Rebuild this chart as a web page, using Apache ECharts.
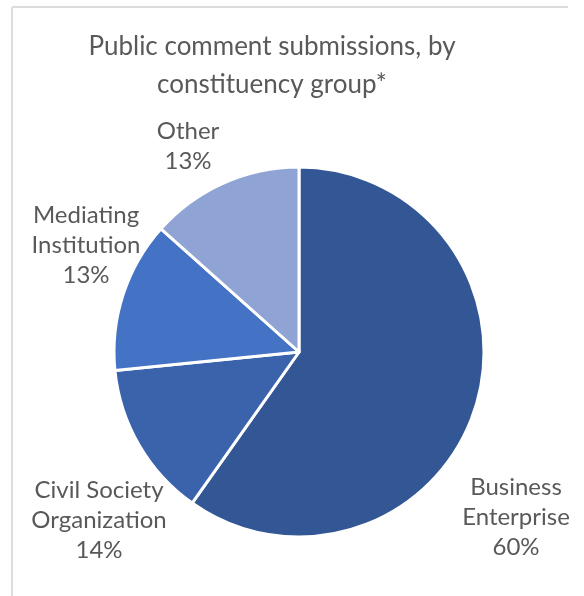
<!DOCTYPE html>
<html>
<head>
<meta charset="utf-8">
<script src="https://cdn.jsdelivr.net/npm/echarts@6/dist/echarts.min.js"></script>
<style>html,body{margin:0;padding:0;background:#fff;}#c{width:584px;height:596px;}</style>
</head>
<body>
<div id="c"></div>
<script>
const categories = ['Business\nEnterprise', 'Civil Society\nOrganization', 'Mediating\nInstitution', 'Other'];
const values = [59.8, 13.6, 13.2, 13.4];
const colors = ['#335694', '#3A63AC', '#4472C4', '#8FA4D4'];

const labelPos = [
  {x: 516, y: 517},
  {x: 99, y: 520},
  {x: 86, y: 245},
  {x: 188, y: 146}
];

const chart = echarts.init(document.getElementById('c'));
chart.setOption({
  animation: false,
  backgroundColor: '#ffffff',
  title: {
    text: 'Public comment submissions, by\nconstituency group*',
    left: 272,
    top: 28,
    textAlign: 'center',
    padding: 0,
    textStyle: {
      fontFamily: 'Lato',
      fontWeight: 'normal',
      fontSize: 26,
      lineHeight: 38,
      color: '#595959'
    }
  },
  graphic: [
    {type: 'line', shape: {x1: 12, y1: 7, x2: 568, y2: 7}, style: {stroke: '#dcdcdc', lineWidth: 2}, silent: true},
    {type: 'line', shape: {x1: 12, y1: 7, x2: 12, y2: 596}, style: {stroke: '#dcdcdc', lineWidth: 2}, silent: true}
  ],
  series: [{
    type: 'pie',
    center: [299, 352],
    radius: [0, 185],
    startAngle: 90,
    clockwise: true,
    data: categories.map((c, i) => ({name: c, value: values[i], itemStyle: {color: colors[i]}})),
    itemStyle: {borderColor: '#ffffff', borderWidth: 3},
    label: {
      show: true,
      position: 'outside',
      alignTo: 'none',
      overflow: 'none',
      formatter: p => p.name + '\n' + Math.round(p.percent) + '%',
      fontFamily: 'Lato',
      fontSize: 24,
      lineHeight: 30,
      color: '#595959',
      align: 'center'
    },
    labelLine: {show: false},
    labelLayout: p => ({
      x: labelPos[p.dataIndex].x,
      y: labelPos[p.dataIndex].y,
      align: 'center',
      verticalAlign: 'middle',
      hideOverlap: false
    }),
    emphasis: {disabled: true}
  }]
});
</script>
</body>
</html>
